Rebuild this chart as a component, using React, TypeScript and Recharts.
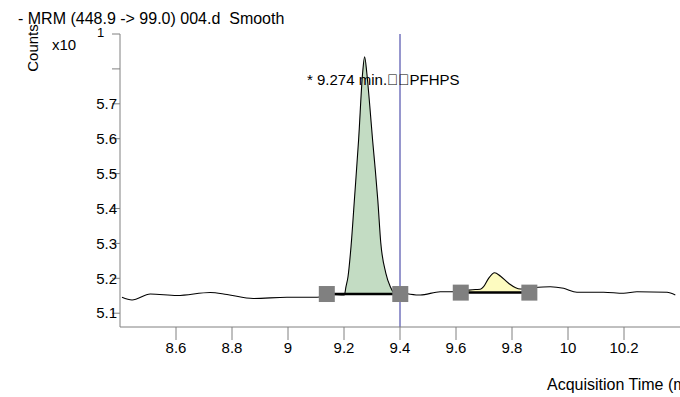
import React from 'react';
import { ComposedChart, Line, Area, Scatter, XAxis, YAxis, ReferenceLine } from 'recharts';

// chromatogram trace (min, counts x10^1)
const traceTime = [
  8.4071, 8.4429, 8.5082, 8.6036, 8.7225, 8.7821, 8.8761, 8.9964, 9.1036, 9.1511,
  9.2011, 9.2071, 9.2143, 9.225, 9.2379, 9.2521, 9.2664, 9.2736, 9.2814, 9.2921,
  9.3021, 9.3118, 9.3207, 9.3314, 9.3493, 9.3654, 9.3893, 9.4011, 9.4725, 9.5439,
  9.5904, 9.6332, 9.669, 9.6868, 9.6986, 9.7164, 9.7379, 9.7582, 9.7879, 9.8296,
  9.8654, 9.9368, 9.9843, 10.0321, 10.1271, 10.1986, 10.2464, 10.3536, 10.3832,
];
const traceCounts = [
  5.1456, 5.1378, 5.155, 5.1507, 5.1593, 5.1536, 5.1421, 5.1456, 5.1456, 5.1536,
  5.1521, 5.1759, 5.2046, 5.2905, 5.4338, 5.5963, 5.7874, 5.835, 5.789, 5.6937,
  5.5963, 5.5103, 5.4244, 5.3011, 5.2152, 5.1759, 5.1521, 5.157, 5.1521, 5.1616,
  5.1616, 5.165, 5.1679, 5.1685, 5.1759, 5.2, 5.216, 5.2066, 5.1857, 5.1693,
  5.1722, 5.1759, 5.1713, 5.1599, 5.1599, 5.157, 5.1616, 5.1599, 5.1521,
];

// integrated peaks: start / end of integration and baseline level
const peakStart = [9.1386, 9.617];
const peakEnd = [9.401, 9.862];
const peakBase = [5.155, 5.159];

const xTicks = [8.6, 8.8, 9, 9.2, 9.4, 9.6, 9.8, 10, 10.2];
const yTicks = [5.1, 5.2, 5.3, 5.4, 5.5, 5.6, 5.7, 5.8, 5.9];
const cursorTime = 9.4;

const FONT = '"Liberation Sans", Arial, sans-serif';
const peakFills = ['#c3dcc3', '#fdfbc0'];

const trace = traceTime.map((t, i) => ({ t, c: traceCounts[i] }));
const peakData = peakStart.map((s, k) => trace.filter((p) => p.t >= s && p.t <= peakEnd[k]));
const baselines = peakStart.map((s, k) => [
  { t: s, c: peakBase[k] },
  { t: peakEnd[k], c: peakBase[k] },
]);
const markers = baselines.flat();

const YTick = (props: any) => {
  const { x, y, payload } = props;
  if (payload.value > 5.75) return <g />;
  return (
    <text x={x + 5} y={y} dy="0.35em" textAnchor="end" fontSize={15} fontFamily={FONT} fill="#000">
      {payload.value.toFixed(1)}
    </text>
  );
};

const Square = (props: any) => (
  <rect x={props.cx - 8} y={props.cy - 8} width={16} height={16} fill="#808080" />
);

export default function App() {
  return (
    <div style={{ position: 'absolute', left: 0, top: 0, width: 680, height: 397, overflow: 'hidden', background: '#fff' }}>
      <ComposedChart width={680} height={397} margin={{ top: 34, right: 0, left: 0, bottom: 0 }}>
        <XAxis
          dataKey="t"
          type="number"
          domain={[8.4, 10.4]}
          allowDataOverflow
          ticks={xTicks}
          tickSize={13}
          tickMargin={2}
          height={70}
          stroke="#808080"
          tick={{ fontSize: 15, fontFamily: FONT, fill: '#000' }}
        />
        <YAxis
          dataKey="c"
          type="number"
          domain={[5.0605, 5.9]}
          allowDataOverflow
          ticks={yTicks}
          tickSize={8}
          tickMargin={0}
          width={120}
          stroke="#808080"
          tick={<YTick />}
        />
        {peakData.map((d, k) => (
          <Area
            key={'a' + k}
            data={d}
            dataKey="c"
            type="monotone"
            baseValue={peakBase[k]}
            stroke="none"
            fill={peakFills[k]}
            fillOpacity={1}
            isAnimationActive={false}
          />
        ))}
        <Scatter data={markers} dataKey="c" shape={<Square />} isAnimationActive={false} />
        {baselines.map((d, k) => (
          <Line
            key={'b' + k}
            data={d}
            dataKey="c"
            type="linear"
            stroke="#000"
            strokeWidth={2.5}
            dot={false}
            isAnimationActive={false}
          />
        ))}
        <Line data={trace} dataKey="c" type="monotone" stroke="#000" strokeWidth={1.1} dot={false} isAnimationActive={false} />
        <ReferenceLine x={cursorTime} stroke="#2e2e9c" strokeWidth={1} />
      </ComposedChart>
      <svg
        width={680}
        height={397}
        style={{ position: 'absolute', left: 0, top: 0, pointerEvents: 'none' }}
        fontFamily={FONT}
      >
        <text x={18} y={24} fontSize={16} fill="#000" style={{ whiteSpace: 'pre' }}>
          - MRM (448.9 -&gt; 99.0) 004.d  Smooth
        </text>
        <text x={0} y={0} fontSize={15} fill="#000" textAnchor="middle" transform="translate(38,48) rotate(-90)">
          Counts
        </text>
        <text x={52} y={50} fontSize={15} fill="#000">x10</text>
        <text x={97} y={37} fontSize={13} fill="#000">1</text>
        <text x={307} y={85} fontSize={15} fill="#000">{'* 9.274 min.\uE000\uE000PFHPS'}</text>
        <text x={547} y={390} fontSize={16} fill="#000">Acquisition Time (min)</text>
      </svg>
    </div>
  );
}
